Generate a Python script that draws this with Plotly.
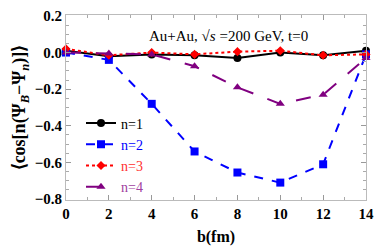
import plotly.graph_objects as go

b = [0, 2, 4, 6, 8, 10, 12, 14]
n1 = [0.01, -0.02, -0.01, -0.015, -0.03, 0.0, -0.015, 0.01]
n2 = [0.0, -0.04, -0.28, -0.54, -0.655, -0.71, -0.61, -0.01]
n3 = [0.02, -0.015, 0.0, -0.01, 0.005, 0.01, -0.015, -0.01]
n4 = [0.0, -0.005, -0.01, -0.075, -0.19, -0.28, -0.23, -0.03]

series = [
    ("n=1", n1, "black", "solid", "circle", 8),
    ("n=2", n2, "#0000ff", "dash", "square", 8),
    ("n=3", n3, "#ff0000", "dot", "diamond", 7),
    ("n=4", n4, "#800080", "longdash", "triangle-up", 8),
]
legend_text_colors = ["black", "#0000ff", "#ff3030", "#a040a0"]

fig = go.Figure()
for (name, ys, col, dash, sym, ms), tc in zip(series, legend_text_colors):
    fig.add_trace(go.Scatter(
        x=b, y=ys, mode="lines+markers",
        name=f"<span style='color:{tc}'>{name}</span>",
        line=dict(color=col, width=2, dash=dash),
        marker=dict(symbol=sym, size=ms, color=col),
        cliponaxis=False,
    ))

fig.add_annotation(
    x=0.54, y=0.885, xref="paper", yref="paper", xanchor="center", yanchor="middle",
    text="Au+Au, √<i>s</i> =200 GeV, t=0",
    showarrow=False, font=dict(family="Liberation Serif", size=15, color="black"),
)

axis_common = dict(
    showline=True, linecolor="#bbbbbb", linewidth=1, mirror="ticks",
    ticks="inside", ticklen=5, tickcolor="#999999",
    showgrid=False, zeroline=False,
    tickfont=dict(family="Liberation Serif", size=15, color="black"),
    minor=dict(ticks="inside", ticklen=3, tickcolor="#aaaaaa", nticks=5),
)

fig.update_xaxes(
    range=[0, 14], tickvals=b, ticktext=[f"<b>{v}</b>" for v in b],
    title=dict(text="<b>b(fm)</b>", font=dict(family="Liberation Serif", size=16, color="black"), standoff=9),
    **axis_common,
)
yt = [0.2, 0.0, -0.2, -0.4, -0.6, -0.8]
fig.update_yaxes(
    range=[-0.805, 0.205], tickvals=yt,
    ticktext=[f"<b>{v:.1f}</b>".replace("-", "−") for v in yt],
    title=dict(text="<b>⟨cos[n(Ψ<sub><i>B</i></sub>−Ψ<sub><i>n</i></sub>)]⟩</b>",
               font=dict(family="Liberation Serif", size=18, color="black"), standoff=4),
    **axis_common,
)

fig.update_layout(
    width=382, height=250,
    margin=dict(l=66, r=8, t=10, b=50),
    paper_bgcolor="white", plot_bgcolor="white",
    showlegend=True,
    legend=dict(x=0.05, y=0.50, xanchor="left", yanchor="top",
                bgcolor="rgba(0,0,0,0)", tracegroupgap=0,
                font=dict(family="Liberation Serif", size=14), itemwidth=30),
)

fig.write_html("out.html", config={"displayModeBar": False},
               post_script="document.body.style.margin='0';document.body.style.overflow='hidden';")
